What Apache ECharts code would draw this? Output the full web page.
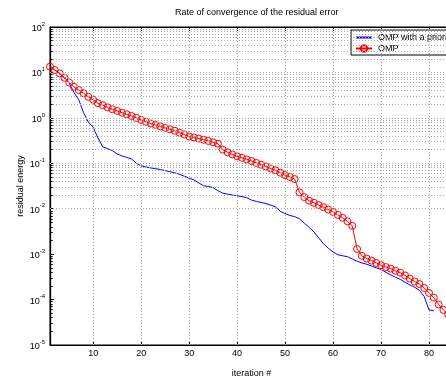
<!DOCTYPE html>
<html>
<head>
<meta charset="utf-8">
<script src="https://cdn.jsdelivr.net/npm/echarts@6/dist/echarts.min.js"></script>
<style>
  html, body { margin: 0; padding: 0; background: #fff; }
  #chart { width: 446px; height: 376px; }
</style>
</head>
<body>
<div id="chart"></div>
<script>
// Residual energy per iteration for the two greedy solvers
var ompPrior = [
  13.4, 11.3, 9.5, 7.6, 5.8, 3.6, 2.5, 1.3, 0.8, 0.62,
  0.36, 0.23, 0.21, 0.19, 0.16, 0.145, 0.135, 0.125, 0.1, 0.088,
  0.083, 0.079, 0.076, 0.073, 0.069, 0.065, 0.062, 0.057, 0.052, 0.047,
  0.043, 0.037, 0.032, 0.031, 0.029, 0.025, 0.022, 0.021, 0.02, 0.0193,
  0.0185, 0.0175, 0.0155, 0.0145, 0.0137, 0.013, 0.012, 0.011, 0.0088, 0.0078,
  0.0071, 0.0067, 0.006, 0.0048, 0.0039, 0.0031, 0.0023, 0.0017, 0.00135, 0.00112,
  0.00097, 0.00092, 0.00088, 0.00078, 0.0007, 0.00064, 0.0006, 0.00055, 0.0005, 0.00046,
  0.0004, 0.00035, 0.00031, 0.00028, 0.00024, 0.00021, 0.000187, 0.00016, 0.000117, 0.000059,
  0.000057
];
var omp = [
  13.4, 11.3, 9.5, 7.6, 6.0, 4.8, 4.1, 3.5, 2.9, 2.5,
  2.1, 1.9, 1.7, 1.55, 1.42, 1.3, 1.2, 1.1, 1.0, 0.9,
  0.82, 0.75, 0.7, 0.65, 0.6, 0.56, 0.52, 0.47, 0.43, 0.39,
  0.37, 0.35, 0.33, 0.31, 0.29, 0.27, 0.2, 0.175, 0.157, 0.142,
  0.132, 0.122, 0.112, 0.102, 0.093, 0.085, 0.077, 0.07, 0.062, 0.055,
  0.05, 0.045, 0.023, 0.018, 0.015, 0.0135, 0.012, 0.0108, 0.0096, 0.0085,
  0.0073, 0.0063, 0.0053, 0.0042, 0.0013, 0.00092, 0.0008, 0.00072, 0.00064, 0.00057,
  0.00052, 0.00048, 0.00043, 0.00039, 0.00034, 0.00029, 0.00025, 0.00022, 0.00018, 0.00014,
  0.00011, 0.000078, 0.000059, 0.000047
];
var xTicks = [10, 20, 30, 40, 50, 60, 70, 80];
var yTicks = [1e-5, 1e-4, 1e-3, 1e-2, 1e-1, 1e0, 1e1, 1e2];
var minorMultipliers = [2, 3, 4, 5, 6, 7, 8, 9];

var X_MIN = 1, X_MAX = 85, Y_MIN = 1e-5, Y_MAX = 1e2;
var FONT = '"Liberation Sans", Arial, Helvetica, sans-serif';

function toPairs(arr) {
  return arr.map(function (v, i) { return [i + 1, v]; });
}

// Dotted grid: vertical at x ticks, horizontal at every decade and its minor steps
var gridLines = [];
xTicks.forEach(function (x) { gridLines.push({ xAxis: x }); });
var minorValues = [];
for (var d = 0; d < yTicks.length - 1; d++) {
  minorMultipliers.forEach(function (m) { minorValues.push(m * yTicks[d]); });
}
yTicks.slice(1, -1).forEach(function (v) { gridLines.push({ yAxis: v }); });
minorValues.forEach(function (v) { gridLines.push({ yAxis: v }); });

// Short inward minor tick marks along the left axis
var minorTickSegs = minorValues.map(function (v) {
  return [{ coord: [X_MIN, v] }, { coord: [X_MIN + 0.55, v] }];
});

var chart = echarts.init(document.getElementById('chart'), null, { renderer: 'canvas' });
chart.setOption({
  animation: false,
  backgroundColor: '#fff',
  textStyle: { fontFamily: FONT },
  title: {
    text: 'Rate of convergence of the residual error',
    left: 170, top: 3,
    textStyle: { fontSize: 9, fontWeight: 'normal', color: '#000', fontFamily: FONT }
  },
  legend: {
    data: [
      { name: 'OMP with a priori', itemStyle: { color: 'transparent', borderColor: 'transparent', borderWidth: 0 } },
      { name: 'OMP' }
    ],
    orient: 'vertical',
    left: 351, top: 30,
    padding: [3, 6, 2, 4],
    itemWidth: 16, itemHeight: 8, itemGap: 2,
    borderColor: '#000', borderWidth: 1,
    backgroundColor: '#fff',
    textStyle: { fontSize: 9, color: '#000', fontFamily: FONT, padding: [0, 0, 0, 1] }
  },
  grid: {
    left: 50, top: 27, width: 403, height: 318,
    containLabel: false, outerBoundsMode: 'none',
    show: true, borderColor: '#000', borderWidth: 1, backgroundColor: 'transparent'
  },
  xAxis: [{
    type: 'value', min: X_MIN, max: X_MAX, position: 'bottom',
    name: 'iteration #', nameLocation: 'middle', nameGap: 24,
    nameTextStyle: { fontSize: 9, color: '#000', fontFamily: FONT },
    axisLine: { show: true, lineStyle: { color: '#000', width: 1 } },
    axisTick: { show: true, inside: true, length: 4, customValues: xTicks, lineStyle: { color: '#000' } },
    axisLabel: { customValues: xTicks, fontSize: 9, color: '#000', margin: 4, fontFamily: FONT },
    splitLine: { show: false }
  }, {
    type: 'value', min: X_MIN, max: X_MAX, position: 'top',
    axisLine: { show: true, lineStyle: { color: '#000', width: 1 } },
    axisTick: { show: true, inside: true, length: 4, customValues: xTicks, lineStyle: { color: '#000' } },
    axisLabel: { show: false },
    splitLine: { show: false }
  }],
  yAxis: {
    type: 'log', logBase: 10, min: Y_MIN, max: Y_MAX,
    name: 'residual energy', nameLocation: 'middle', nameGap: 25, nameRotate: 90,
    nameMoveOverlap: false,
    nameTextStyle: { fontSize: 9, color: '#000', fontFamily: FONT },
    axisLine: { show: true, lineStyle: { color: '#000', width: 1.3 } },
    axisTick: { show: true, inside: true, length: 4, customValues: yTicks, lineStyle: { color: '#000' } },
    axisLabel: {
      customValues: yTicks, margin: 5, color: '#000', fontFamily: FONT,
      formatter: function (v) {
        var e = Math.round(Math.log10(v));
        return '{b|10}{s|' + e + '}';
      },
      rich: {
        b: { fontSize: 9, lineHeight: 12, verticalAlign: 'bottom', color: '#000', fontFamily: FONT },
        s: { fontSize: 6, lineHeight: 12, verticalAlign: 'top', color: '#000', fontFamily: FONT }
      }
    },
    splitLine: { show: false }
  },
  series: [{
    name: 'grid',
    type: 'line',
    data: [],
    silent: true,
    z: 1,
    markLine: {
      silent: true, symbol: 'none', animation: false,
      label: { show: false },
      lineStyle: { type: [1, 2], color: '#a8a8a8', width: 1 },
      emphasis: { disabled: true },
      data: gridLines
    }
  }, {
    name: 'ticks',
    type: 'line',
    data: [],
    silent: true,
    z: 1,
    markLine: {
      silent: true, symbol: 'none', animation: false,
      label: { show: false },
      lineStyle: { type: 'solid', color: '#000', width: 1 },
      emphasis: { disabled: true },
      data: minorTickSegs
    }
  }, {
    name: 'OMP with a priori',
    type: 'line',
    data: toPairs(ompPrior),
    showSymbol: false,
    symbol: 'none',
    color: '#0000ff',
    lineStyle: { color: '#0000ff', width: 1 },
    z: 3
  }, {
    name: 'OMP',
    type: 'line',
    data: toPairs(omp),
    symbol: 'circle',
    symbolSize: 7,
    color: '#ff0000',
    lineStyle: { color: '#ff0000', width: 1 },
    itemStyle: { color: 'rgba(255,0,0,0)', borderColor: '#ff0000', borderWidth: 1 },
    z: 4
  }]
});
</script>
</body>
</html>
